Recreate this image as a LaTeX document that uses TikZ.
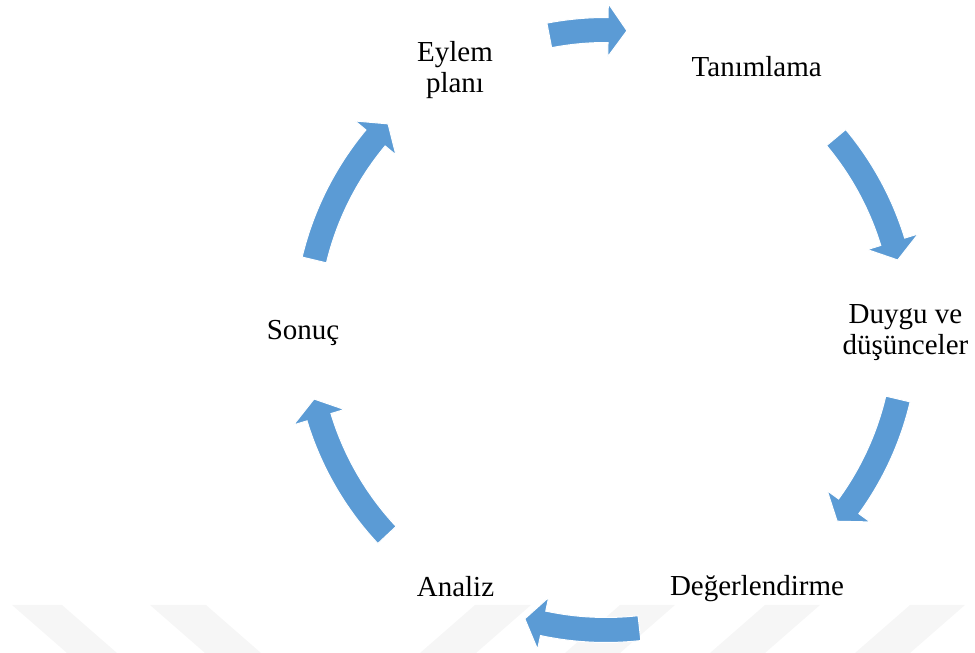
\documentclass[tikz,border=0pt]{standalone}
\usepackage{fontspec}
\setmainfont{Liberation Serif}
\definecolor{cycleblue}{HTML}{5B9BD5}
\definecolor{markgray}{HTML}{F6F6F6}

% curved block arrow on the cycle: #1 = tail angle, #2 = tip angle
\newcommand\blockarrow[2]{%
  \pgfmathsetmacro\headbase{(#1>#2) ? (#2+3.6) : (#2-3.6)}%
  \fill[arrowshape]
    ([shift={(C)}]#1:287.5) arc[start angle=#1, end angle=\headbase, radius=287.5]
    -- ([shift={(C)}]\headbase:273.5)
    -- ([shift={(C)}]#2:300)
    -- ([shift={(C)}]\headbase:326.5)
    -- ([shift={(C)}]\headbase:312.5)
    arc[start angle=\headbase, end angle=#1, radius=312.5]
    -- cycle;%
}

\begin{document}
\begin{tikzpicture}[x=1pt, y=1pt,
  label/.style={font=\fontsize{29}{31.5}\selectfont, align=center, inner sep=0pt, anchor=base},
  arrowshape/.style={fill=cycleblue, draw=white, line width=1pt, line join=miter},
  stripe/.style={fill=markgray}]
  \useasboundingbox (0,0) rectangle (975,653);

  % faint background stripes along the bottom edge
  \fill[stripe] (12,48) -- (62,48) -- (117,0) -- (67,0) -- cycle;
  \fill[stripe] (150,48) -- (206,48) -- (261,0) -- (205,0) -- cycle;
  \fill[stripe] (475,48) -- (531,48) -- (476,0) -- (420,0) -- cycle;
  \fill[stripe] (620,48) -- (675,48) -- (620,0) -- (565,0) -- cycle;
  \fill[stripe] (765,48) -- (820,48) -- (765,0) -- (710,0) -- cycle;
  \fill[stripe] (910,48) -- (965,48) -- (910,0) -- (855,0) -- cycle;

  \coordinate (C) at (606,323);

  % cycle steps (base anchor sits on the last line)
  \node[label] (eylem)  at (455,560)   {Eylem\\planı};
  \node[label] (tanim)  at (756.7,576.3) {Tanımlama};
  \node[label] (duygu)  at (905.5,298) {Duygu ve\\düşünceler};
  \node[label] (deger)  at (757,57)    {Değerlendirme};
  \node[label] (analiz) at (455.5,56.3) {Analiz};
  \node[label] (sonuc)  at (303,313)   {Sonuç};

  % arrows between the steps
  \blockarrow{100.9}{86}
  \blockarrow{39.9}{13.5}
  \blockarrow{-13.3}{-39.6}
  \blockarrow{-83.6}{-105.7}
  \blockarrow{223.1}{193.3}
  \blockarrow{166.5}{136.6}
\end{tikzpicture}
\end{document}
